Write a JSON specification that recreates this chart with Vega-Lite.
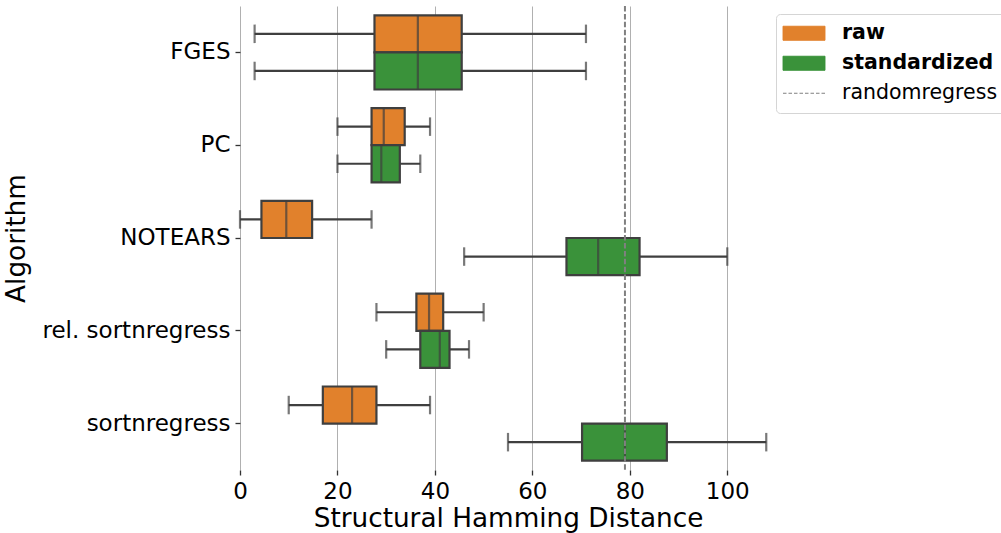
{
  "$schema": "https://vega.github.io/schema/vega-lite/v6.json",
  "width": 536,
  "height": 464,
  "autosize": {"type": "none"},
  "padding": {"left": 240, "top": 6, "right": 225, "bottom": 63},
  "background": "#ffffff",
  "config": {
    "font": "DejaVu Sans",
    "view": {"stroke": null},
    "axis": {
      "labelFont": "DejaVu Sans",
      "titleFont": "DejaVu Sans",
      "labelFontSize": 23,
      "titleFontSize": 26.3,
      "titleFontWeight": "normal",
      "labelColor": "#000000",
      "titleColor": "#000000",
      "domain": false,
      "tickColor": "#333333",
      "tickSize": 5,
      "tickWidth": 1.3
    },
    "axisX": {"grid": true, "gridColor": "#b0b0b0", "gridWidth": 1, "labelPadding": 5, "titlePadding": 2, "labelFlush": false, "labelOverlap": false},
    "axisY": {"grid": false, "labelPadding": 5, "titlePadding": 12, "labelLimit": 0},
    "legend": {
      "orient": "none",
      "legendX": 536,
      "legendY": 8,
      "padding": 9,
      "strokeColor": "#d5d5d5",
      "fillColor": "#ffffff",
      "cornerRadius": 4,
      "symbolSize": 196,
      "labelFont": "DejaVu Sans",
      "labelFontSize": 20.5,
      "labelColor": "#000000",
      "labelOffset": 36.5,
      "rowPadding": 9
    }
  },
  "datasets": {
    "boxes": [
      {"algorithm": "FGES", "condition": "raw", "min": 3, "q1": 27.6, "median": 36.5, "q3": 45.5, "max": 71},
      {"algorithm": "FGES", "condition": "standardized", "min": 3, "q1": 27.6, "median": 36.5, "q3": 45.5, "max": 71},
      {"algorithm": "PC", "condition": "raw", "min": 20, "q1": 27, "median": 29.5, "q3": 33.8, "max": 39},
      {"algorithm": "PC", "condition": "standardized", "min": 20, "q1": 27, "median": 29, "q3": 32.8, "max": 37},
      {"algorithm": "NOTEARS", "condition": "raw", "min": 0, "q1": 4.4, "median": 9.5, "q3": 14.8, "max": 27},
      {"algorithm": "NOTEARS", "condition": "standardized", "min": 46, "q1": 67, "median": 73.5, "q3": 82, "max": 100},
      {"algorithm": "rel. sortnregress", "condition": "raw", "min": 28, "q1": 36.2, "median": 38.8, "q3": 41.7, "max": 50},
      {"algorithm": "rel. sortnregress", "condition": "standardized", "min": 30, "q1": 37, "median": 41, "q3": 43, "max": 47},
      {"algorithm": "sortnregress", "condition": "raw", "min": 10, "q1": 17, "median": 23, "q3": 28, "max": 39},
      {"algorithm": "sortnregress", "condition": "standardized", "min": 55, "q1": 70.2, "median": 79, "q3": 87.6, "max": 108}
    ],
    "ref": [{"label": "randomregress", "value": 79}]
  },
  "data": {"name": "boxes"},
  "encoding": {
    "y": {
      "field": "algorithm",
      "type": "nominal",
      "sort": ["FGES", "PC", "NOTEARS", "rel. sortnregress", "sortnregress"],
      "scale": {"paddingInner": 0, "paddingOuter": 0},
      "axis": {"title": "Algorithm"}
    }
  },
  "layer": [
    {
      "mark": {"type": "rule", "color": "#3f3f3f", "strokeWidth": 2.2},
      "encoding": {
        "yOffset": {"field": "condition", "sort": ["raw", "standardized"], "scale": {"paddingInner": 0, "paddingOuter": 0.25}},
        "x": {"field": "min", "type": "quantitative", "scale": {"domain": [0, 110], "nice": false, "zero": false}, "axis": {"title": "Structural Hamming Distance", "values": [0, 20, 40, 60, 80, 100]}},
        "x2": {"field": "max"}
      }
    },
    {
      "mark": {"type": "bar", "stroke": "#3f3f3f", "strokeWidth": 2.2},
      "encoding": {
        "yOffset": {"field": "condition", "sort": ["raw", "standardized"], "scale": {"paddingInner": 0, "paddingOuter": 0.25}},
        "x": {"field": "q1", "type": "quantitative", "axis": {"title": "Structural Hamming Distance", "values": [0, 20, 40, 60, 80, 100]}},
        "x2": {"field": "q3"},
        "color": {
          "field": "condition",
          "type": "nominal",
          "scale": {"domain": ["raw", "standardized", "randomregress"], "range": ["#e1812c", "#3a923a", "#808080"]},
          "legend": {
            "title": null,
            "encode": {
              "symbols": {
                "update": {
                  "shape": {"signal": "datum.value === 'randomregress' ? 'M-1.75,0H4.25' : 'M-1.75,-1H4.25V1H-1.75Z'"},
                  "size": {"value": 196},
                  "fill": {"signal": "datum.value === 'randomregress' ? 'transparent' : scale('color', datum.value)"},
                  "stroke": {"signal": "datum.value === 'randomregress' ? '#808080' : '#3f3f3f'"},
                  "strokeWidth": {"value": 1},
                  "strokeDash": {"signal": "datum.value === 'randomregress' ? [3.5, 2] : [1, 0]"},
                  "opacity": {"value": 1}
                }
              },
              "labels": {
                "update": {
                  "fontWeight": {"signal": "datum.value === 'randomregress' ? 'normal' : 'bold'"}
                }
              }
            }
          }
        }
      }
    },
    {
      "mark": {"type": "tick", "color": "#3f3f3f", "thickness": 2.2, "size": 37},
      "encoding": {
        "yOffset": {"field": "condition", "sort": ["raw", "standardized"], "scale": {"paddingInner": 0, "paddingOuter": 0.25}},
        "x": {"field": "median", "type": "quantitative", "axis": {"title": "Structural Hamming Distance", "values": [0, 20, 40, 60, 80, 100]}}
      }
    },
    {
      "mark": {"type": "tick", "color": "#3f3f3f", "thickness": 2.2, "size": 18.5},
      "encoding": {
        "yOffset": {"field": "condition", "sort": ["raw", "standardized"], "scale": {"paddingInner": 0, "paddingOuter": 0.25}},
        "x": {"field": "min", "type": "quantitative", "axis": {"title": "Structural Hamming Distance", "values": [0, 20, 40, 60, 80, 100]}}
      }
    },
    {
      "mark": {"type": "tick", "color": "#3f3f3f", "thickness": 2.2, "size": 18.5},
      "encoding": {
        "yOffset": {"field": "condition", "sort": ["raw", "standardized"], "scale": {"paddingInner": 0, "paddingOuter": 0.25}},
        "x": {"field": "max", "type": "quantitative", "axis": {"title": "Structural Hamming Distance", "values": [0, 20, 40, 60, 80, 100]}}
      }
    },
    {
      "data": {"name": "ref"},
      "mark": {"type": "rule", "strokeDash": [5.5, 2.4], "strokeWidth": 2},
      "encoding": {
        "y": null,
        "x": {"field": "value", "type": "quantitative", "axis": {"title": "Structural Hamming Distance", "values": [0, 20, 40, 60, 80, 100]}},
        "color": {
          "field": "label",
          "type": "nominal",
          "legend": {
            "title": null,
            "encode": {
              "symbols": {
                "update": {
                  "shape": {"signal": "datum.value === 'randomregress' ? 'M-1.75,0H4.25' : 'M-1.75,-1H4.25V1H-1.75Z'"},
                  "size": {"value": 196},
                  "fill": {"signal": "datum.value === 'randomregress' ? 'transparent' : scale('color', datum.value)"},
                  "stroke": {"signal": "datum.value === 'randomregress' ? '#808080' : '#3f3f3f'"},
                  "strokeWidth": {"value": 1},
                  "strokeDash": {"signal": "datum.value === 'randomregress' ? [3.5, 2] : [1, 0]"},
                  "opacity": {"value": 1}
                }
              },
              "labels": {
                "update": {
                  "fontWeight": {"signal": "datum.value === 'randomregress' ? 'normal' : 'bold'"}
                }
              }
            }
          }
        }
      }
    }
  ]
}
